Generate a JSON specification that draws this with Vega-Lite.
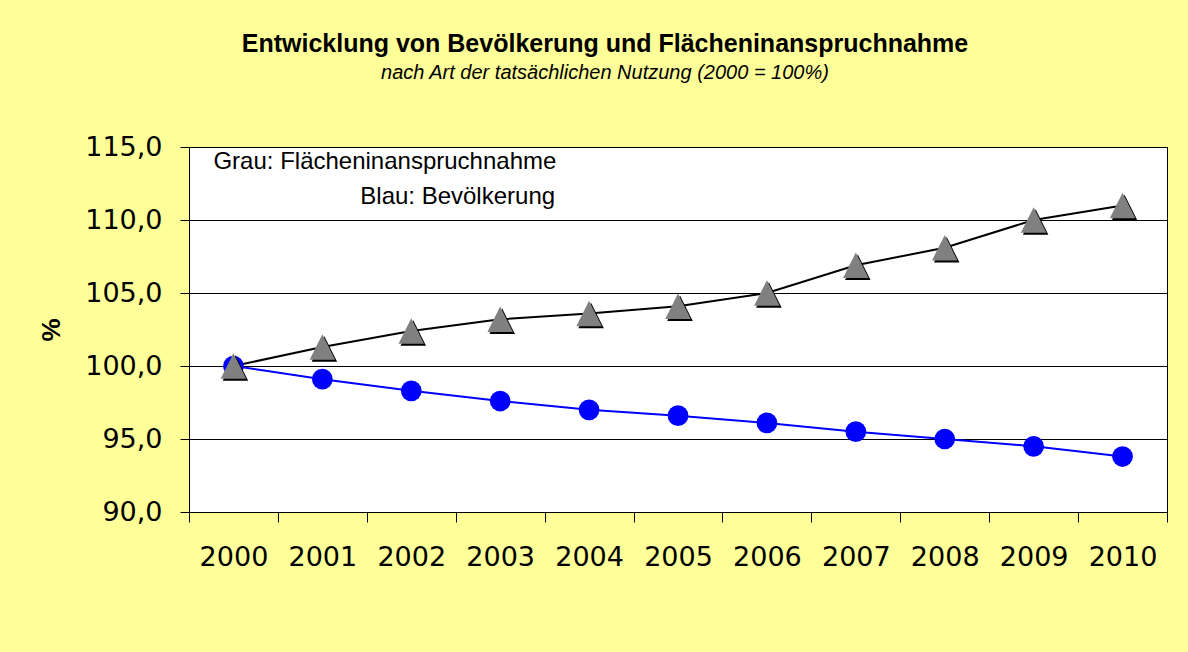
{
  "$schema": "https://vega.github.io/schema/vega-lite/v6.json",
  "width": 978,
  "height": 365,
  "autosize": {"type": "none"},
  "padding": {"left": 189, "top": 147, "right": 21, "bottom": 140},
  "background": "#FFFF99",
  "title": {
    "text": "Entwicklung von Bevölkerung und Flächeninanspruchnahme",
    "subtitle": "nach Art der tatsächlichen Nutzung (2000 = 100%)",
    "font": "Liberation Sans",
    "fontSize": 25,
    "fontWeight": "bold",
    "color": "#000000",
    "subtitleFont": "Liberation Sans",
    "subtitleFontSize": 20,
    "subtitleFontStyle": "italic",
    "subtitleColor": "#000000",
    "subtitlePadding": 6,
    "anchor": "middle",
    "frame": "group",
    "dx": -73,
    "offset": 50
  },
  "datasets": {
    "flaeche": [
      {"year": "2000", "value": 100.0},
      {"year": "2001", "value": 101.3},
      {"year": "2002", "value": 102.4},
      {"year": "2003", "value": 103.2},
      {"year": "2004", "value": 103.6},
      {"year": "2005", "value": 104.1},
      {"year": "2006", "value": 105.0},
      {"year": "2007", "value": 106.9},
      {"year": "2008", "value": 108.1},
      {"year": "2009", "value": 110.0},
      {"year": "2010", "value": 111.0}
    ],
    "bev": [
      {"year": "2000", "value": 100.0},
      {"year": "2001", "value": 99.1},
      {"year": "2002", "value": 98.3},
      {"year": "2003", "value": 97.6},
      {"year": "2004", "value": 97.0},
      {"year": "2005", "value": 96.6},
      {"year": "2006", "value": 96.1},
      {"year": "2007", "value": 95.5},
      {"year": "2008", "value": 95.0},
      {"year": "2009", "value": 94.5},
      {"year": "2010", "value": 93.8}
    ],
    "note1": [
      {"year": "2000", "value": 114.0, "label": "Grau: Flächeninanspruchnahme"}
    ],
    "note2": [
      {"year": "2004", "value": 111.6, "label": "Blau: Bevölkerung"}
    ]
  },
  "encoding": {
    "x": {
      "field": "year",
      "type": "ordinal",
      "scale": {"type": "band", "paddingInner": 0, "paddingOuter": 0},
      "axis": {
        "title": null,
        "tickBand": "extent",
        "grid": false,
        "domainColor": "#000000",
        "tickColor": "#000000",
        "tickSize": 10,
        "labelAngle": 0,
        "labelFont": "DejaVu Sans",
        "labelFontSize": 27,
        "labelColor": "#000000",
        "labelPadding": 22
      }
    },
    "y": {
      "field": "value",
      "type": "quantitative",
      "scale": {"domain": [90, 115], "nice": false, "zero": false},
      "axis": {
        "title": "%",
        "titleFont": "Liberation Sans",
        "titleFontSize": 26,
        "titleFontWeight": "bold",
        "titleColor": "#000000",
        "titlePadding": 20,
        "values": [90, 95, 100, 105, 110, 115],
        "labelExpr": "replace(format(datum.value, '.1f'), '.', ',')",
        "labelFont": "DejaVu Sans",
        "labelFontSize": 27,
        "labelColor": "#000000",
        "labelPadding": 18,
        "tickSize": 9,
        "tickColor": "#000000",
        "domainColor": "#000000",
        "grid": true,
        "gridColor": "#000000",
        "gridWidth": 1,
        "gridOpacity": 1
      }
    }
  },
  "layer": [
    {
      "data": {"name": "flaeche"},
      "mark": {"type": "line", "color": "#000000", "strokeWidth": 2}
    },
    {
      "data": {"name": "bev"},
      "mark": {"type": "line", "color": "#0000FF", "strokeWidth": 2}
    },
    {
      "data": {"name": "bev"},
      "mark": {"type": "point", "shape": "circle", "filled": true, "size": 430, "color": "#0000FF", "opacity": 1}
    },
    {
      "data": {"name": "flaeche"},
      "mark": {"type": "point", "shape": "M0,-1L1,1L-1,1Z", "filled": true, "size": 650, "color": "#000000", "opacity": 1, "xOffset": 2, "yOffset": 2}
    },
    {
      "data": {"name": "flaeche"},
      "mark": {"type": "point", "shape": "M0,-1L1,1L-1,1Z", "filled": true, "size": 650, "color": "#808080", "opacity": 1}
    },
    {
      "data": {"name": "note1"},
      "mark": {"type": "text", "font": "Liberation Sans", "fontSize": 24, "color": "#000000", "baseline": "middle", "align": "left", "dx": -20},
      "encoding": {"text": {"field": "label"}}
    },
    {
      "data": {"name": "note2"},
      "mark": {"type": "text", "font": "Liberation Sans", "fontSize": 24, "color": "#000000", "baseline": "middle", "align": "right", "dx": -34},
      "encoding": {"text": {"field": "label"}}
    }
  ],
  "config": {
    "view": {"stroke": "#000000", "strokeWidth": 1, "fill": "#FFFFFF"}
  }
}
